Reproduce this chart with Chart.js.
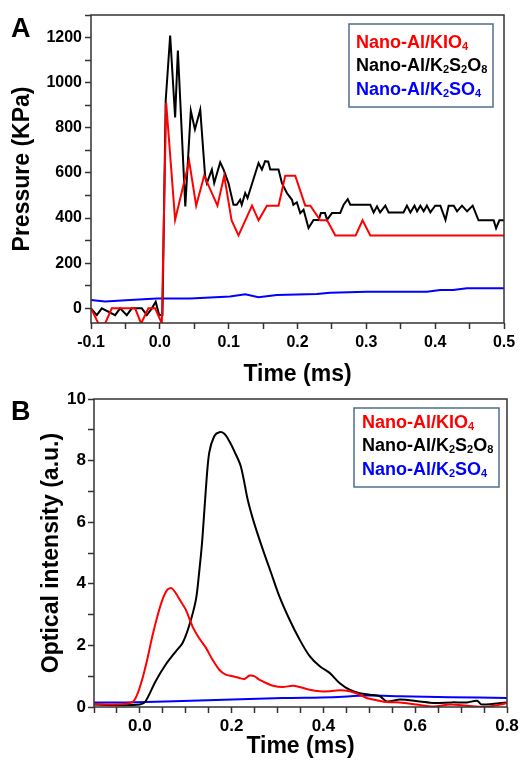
<!DOCTYPE html>
<html lang="en">
<head>
    <meta charset="UTF-8">
    <title>Pressure and optical intensity</title>
    <style>
        body { margin: 0; background: #fff; }
        .panel { position: absolute; left: 0; }
        #chartA { top: 0; }
        #chartB { top: 380px; }
    </style>
</head>
<body>
    <canvas id="chartA" class="panel" width="528" height="392"></canvas>
    <canvas id="chartB" class="panel" width="528" height="383"></canvas>

    <script src="https://cdn.jsdelivr.net/npm/chart.js"></script>
    <script>
        const seriesNames = ['Nano-Al/KIO₄', 'Nano-Al/K₂S₂O₈', 'Nano-Al/K₂SO₄'];

        // Panel A : pressure (KPa) vs time (ms)
        const timeA_KIO4 = [
            -0.1, -0.0893, -0.0795, -0.0698, -0.0359,
            -0.0272, -0.0166, -0.0068, 0.0029, 0.0092,
            0.0222, 0.0426, 0.0528, 0.0644, 0.0837,
            0.0935, 0.1043, 0.1143, 0.1339, 0.1434,
            0.1556, 0.1725, 0.1822, 0.1967, 0.2113,
            0.2187, 0.233, 0.243, 0.255, 0.2845,
            0.2945, 0.3058, 0.5
        ];
        const pressA_KIO4 = [
            0, -67, -67, 0, 0,
            -67, 0, 0, -67, 911,
            392, 652, 455, 588, 455,
            588, 390, 323, 455, 390,
            455, 455, 588, 588, 455,
            455, 390, 390, 323, 323,
            390, 323, 323
        ];
        const timeA_K2S2O8 = [
            -0.1, -0.0916, -0.0843, -0.065, -0.0577,
            -0.048, -0.0407, -0.0262, -0.0189, -0.0116,
            -0.006, -0.001, 0.0038, 0.0085, 0.015,
            0.0222, 0.0262, 0.037, 0.045, 0.051,
            0.0587, 0.0658, 0.0683, 0.0756, 0.079,
            0.0877, 0.0925, 0.0997, 0.107, 0.1117,
            0.1167, 0.119, 0.124, 0.1274, 0.1434,
            0.1483, 0.153, 0.1575, 0.1604, 0.1724,
            0.1774, 0.1846, 0.192, 0.194, 0.199,
            0.204, 0.2088, 0.216, 0.2233, 0.2306,
            0.234, 0.240, 0.243, 0.250, 0.262,
            0.267, 0.273, 0.2767, 0.3058, 0.3106,
            0.3155, 0.320, 0.3276, 0.3324, 0.354,
            0.359, 0.364, 0.370, 0.3737, 0.3785,
            0.3833, 0.388, 0.393, 0.400, 0.4075,
            0.415, 0.4196, 0.427, 0.4318, 0.439,
            0.4464, 0.4545, 0.463, 0.485, 0.4885,
            0.4933, 0.5
        ];
        const pressA_K2S2O8 = [
            0, -30, 0, -30, 0,
            -30, 0, 0, -30, 0,
            29, -30, -30, 920, 1209,
            846, 1142, 452, 876, 793,
            880, 585, 555, 615, 555,
            647, 616, 555, 459, 459,
            481, 459, 511, 489, 644,
            615, 652, 650, 615, 615,
            555, 511, 481, 459, 470,
            422, 437, 356, 392, 392,
            422, 422, 392, 422, 422,
            459, 484, 459, 459, 425,
            452, 425, 455, 425, 425,
            455, 425, 455, 430, 455,
            430, 455, 425, 455, 455,
            392, 455, 455, 430, 455,
            430, 455, 390, 390, 355,
            390, 390
        ];
        const timeA_K2SO4 = [-0.1, -0.0795, -0.0432, -0.0044, 0.044, 0.102, 0.124, 0.1434, 0.170,
            0.228, 0.2475, 0.301, 0.388, 0.4075, 0.426, 0.446, 0.5];
        const pressA_K2SO4 = [37, 30, 37, 44, 44, 52, 62, 49, 59,
            64, 69, 74, 74, 81, 81, 89, 89];

        // Panel B : optical intensity (a.u.) vs time (ms)
        const timeB_KIO4 = [
            -0.1, -0.06, -0.017, -0.006, 0.005, 0.016, 0.027, 0.038, 0.049, 0.06,
            0.069, 0.078, 0.089, 0.1, 0.1145, 0.129, 0.144, 0.158, 0.173, 0.187,
            0.202, 0.217, 0.228, 0.239, 0.249, 0.26, 0.275, 0.29, 0.311, 0.333,
            0.348, 0.37, 0.392, 0.414, 0.435, 0.457, 0.479, 0.494, 0.516, 0.538,
            0.567, 0.603, 0.64, 0.676, 0.713, 0.75, 0.786, 0.8
        ];
        const intB_KIO4 = [
            0.1, 0.08, 0.15, 0.4, 0.89, 1.54, 2.29, 2.94, 3.48, 3.81,
            3.86, 3.7, 3.43, 3.16, 2.62, 2.24, 1.92, 1.54, 1.21, 1.05,
            1.0, 0.94, 0.91, 1.02, 1.0, 0.89, 0.78, 0.69, 0.65, 0.69,
            0.65, 0.56, 0.51, 0.51, 0.54, 0.51, 0.4, 0.29, 0.22, 0.16,
            0.15, 0.08, 0.02, 0.08, 0.04, 0.0, 0.08, 0.13
        ];
        const timeB_K2S2O8 = [
            -0.1, -0.05, 0.0, 0.012, 0.034, 0.056, 0.078, 0.093, 0.107, 0.122,
            0.129, 0.136, 0.1437, 0.151, 0.162, 0.173, 0.184, 0.195, 0.206, 0.22,
            0.235, 0.249, 0.268, 0.286, 0.304, 0.326, 0.348, 0.37, 0.392, 0.414,
            0.435, 0.457, 0.479, 0.501, 0.523, 0.538, 0.567, 0.61, 0.64, 0.68,
            0.713, 0.735, 0.745, 0.8
        ];
        const intB_K2S2O8 = [
            0.08, 0.06, 0.08, 0.18, 0.83, 1.37, 1.8, 2.08, 2.62, 3.48,
            4.35, 5.43, 7.06, 8.25, 8.79, 8.92, 8.87, 8.63, 8.3, 7.81,
            6.73, 5.97, 5.11, 4.35, 3.59, 2.84, 2.19, 1.65, 1.32, 1.1,
            0.78, 0.56, 0.45, 0.4, 0.35, 0.18, 0.24, 0.18, 0.13, 0.15,
            0.15, 0.2, 0.08, 0.15
        ];
        const timeB_K2SO4 = [-0.1, -0.03, 0.056, 0.202, 0.311, 0.42, 0.494, 0.567, 0.676, 0.8];
        const intB_K2SO4 = [0.15, 0.15, 0.18, 0.24, 0.29, 0.32, 0.37, 0.35, 0.32, 0.29];

        const lineColors = ['#ff0000', '#000000', '#0000ff'];

        function pts(xs, ys) {
            return xs.map((x, i) => ({ x: x, y: ys[i] }));
        }

        function makeSets(pairs, tension) {
            return pairs.map((p, i) => ({
                label: seriesNames[i],
                data: pts(p[0], p[1]),
                borderColor: lineColors[i],
                borderWidth: 2,
                pointRadius: 0,
                tension: tension,
                fill: false
            }));
        }

        // draws "Nano-Al/K₂S₂O₈" with real subscripts
        const subs = '₀₁₂₃₄₅₆₇₈₉';
        function drawSubText(ctx, text, x, y, weight, size) {
            for (const ch of text) {
                const k = subs.indexOf(ch);
                if (k >= 0) {
                    ctx.font = weight + ' ' + Math.round(size * 0.62) + 'px "Liberation Sans", Arial, sans-serif';
                    ctx.fillText(String(k), x, y + size * 0.22);
                    x += ctx.measureText(String(k)).width;
                } else {
                    ctx.font = weight + ' ' + size + 'px "Liberation Sans", Arial, sans-serif';
                    ctx.fillText(ch, x, y);
                    x += ctx.measureText(ch).width;
                }
            }
        }

        const framePlugin = {
            id: 'frame',
            afterDraw(chart, args, opts) {
                const ctx = chart.ctx;
                const a = chart.chartArea;
                ctx.save();
                ctx.strokeStyle = '#333';
                ctx.lineWidth = 1.5;
                ctx.strokeRect(a.left, a.top, a.right - a.left, a.bottom - a.top);

                // panel letter
                ctx.fillStyle = '#000';
                ctx.font = 'bold 27px "Liberation Sans", Arial, sans-serif';
                ctx.textBaseline = 'alphabetic';
                ctx.fillText(opts.letter, opts.letterX, opts.letterY);

                // legend box
                const b = opts.box;
                ctx.fillStyle = '#fff';
                ctx.fillRect(b.x, b.y, b.w, b.h);
                ctx.strokeStyle = '#4d6f8f';
                ctx.lineWidth = 1.5;
                ctx.strokeRect(b.x, b.y, b.w, b.h);
                ctx.textBaseline = 'middle';
                chart.data.datasets.forEach((ds, i) => {
                    ctx.fillStyle = ds.borderColor;
                    drawSubText(ctx, ds.label, b.x + b.pad, b.y + b.first + i * b.step, 'bold', 18);
                });
                ctx.restore();
            }
        };

        const fontFamily = '"Liberation Sans", Arial, sans-serif';
        const titleFont = { family: fontFamily, size: 23, weight: 'bold', lineHeight: 1 };

        function fmt(v) {
            return Math.abs(v) < 1e-9 ? '0.0' : v.toFixed(1);
        }

        function axisX(min, max, every, labelFilter, height, titlePad, tickPad, tickSize) {
            return {
                type: 'linear',
                min: min,
                max: max,
                afterFit: s => { s.height = height; },
                border: { display: false },
                grid: { drawOnChartArea: false, drawTicks: true, tickLength: 6, tickColor: '#333', tickWidth: 1.5 },
                ticks: {
                    stepSize: every,
                    autoSkip: false,
                    maxRotation: 0,
                    minRotation: 0,
                    padding: tickPad,
                    color: '#000',
                    font: { family: fontFamily, size: tickSize, weight: 'bold' },
                    callback: v => labelFilter(v) ? fmt(v) : ''
                },
                title: { display: true, text: 'Time (ms)', color: '#000', font: titleFont, padding: { top: 0, bottom: titlePad } }
            };
        }

        function axisY(min, max, every, labelEvery, width, title, titlePad, tickPad, tickSize) {
            return {
                min: min,
                max: max,
                afterFit: s => { s.width = width; },
                border: { display: false },
                grid: { drawOnChartArea: false, drawTicks: true, tickLength: 6, tickColor: '#333', tickWidth: 1.5 },
                ticks: {
                    stepSize: every,
                    autoSkip: false,
                    includeBounds: false,
                    padding: tickPad,
                    color: '#000',
                    font: { family: fontFamily, size: tickSize, weight: 'bold' },
                    callback: v => Math.abs(v % labelEvery) < 1e-6 ? String(v) : ''
                },
                title: { display: true, text: title, color: '#000', font: titleFont, padding: { top: titlePad, bottom: 0 } }
            };
        }

        const onTenth = v => Math.abs(v * 10 - Math.round(v * 10)) < 1e-6;
        const onFifth = v => v > -0.01 && Math.abs(v * 5 - Math.round(v * 5)) < 1e-6;

        new Chart(document.getElementById('chartA'), {
            type: 'line',
            data: {
                datasets: makeSets([
                    [timeA_KIO4, pressA_KIO4],
                    [timeA_K2S2O8, pressA_K2S2O8],
                    [timeA_K2SO4, pressA_K2SO4]
                ], 0)
            },
            options: {
                responsive: false,
                animation: false,
                layout: { padding: { left: 0, right: 24, top: 15, bottom: 0 } },
                plugins: {
                    legend: { display: false },
                    tooltip: { enabled: false },
                    frame: {
                        letter: 'A', letterX: 11, letterY: 37,
                        box: { x: 349, y: 24, w: 144, h: 83, pad: 7, first: 19, step: 23.5 }
                    }
                },
                scales: {
                    x: axisX(-0.1, 0.5, 0.05, onTenth, 69, 6, 4, 16),
                    y: axisY(-65, 1300, 100, 200, 91, 'Pressure (KPa)', 11, 3, 16)
                }
            },
            plugins: [framePlugin]
        });

        new Chart(document.getElementById('chartB'), {
            type: 'line',
            data: {
                datasets: makeSets([
                    [timeB_KIO4, intB_KIO4],
                    [timeB_K2S2O8, intB_K2S2O8],
                    [timeB_K2SO4, intB_K2SO4]
                ], 0.3)
            },
            options: {
                responsive: false,
                animation: false,
                layout: { padding: { left: 0, right: 21, top: 19, bottom: 0 } },
                plugins: {
                    legend: { display: false },
                    tooltip: { enabled: false },
                    frame: {
                        letter: 'B', letterX: 11, letterY: 40,
                        box: { x: 354, y: 28, w: 145, h: 79, pad: 8, first: 15, step: 23.5 }
                    }
                },
                scales: {
                    x: axisX(-0.1, 0.8, 0.05, onFifth, 56, 5, 3, 17),
                    y: axisY(0, 10, 1, 2, 94, 'Optical intensity (a.u.)', 40, 2, 17)
                }
            },
            plugins: [framePlugin]
        });
    </script>
</body>
</html>
